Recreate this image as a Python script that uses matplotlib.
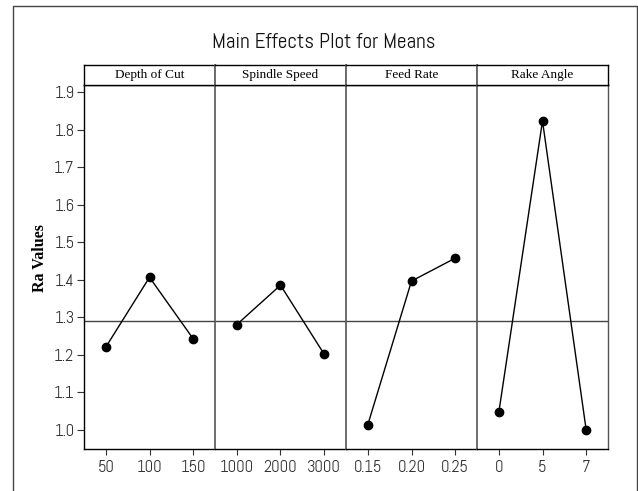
import matplotlib
matplotlib.use("Agg")
import matplotlib.pyplot as plt
from matplotlib.lines import Line2D

factors = ["Depth of Cut", "Spindle Speed", "Feed Rate", "Rake Angle"]
levels = [["50", "100", "150"],
          ["1000", "2000", "3000"],
          ["0.15", "0.20", "0.25"],
          ["0", "5", "7"]]
depth_means = [1.221, 1.407, 1.243]
speed_means = [1.281, 1.386, 1.202]
feed_means = [1.014, 1.397, 1.458]
rake_means = [1.047, 1.824, 1.000]
series = [depth_means, speed_means, feed_means, rake_means]
yticks = [1.0, 1.1, 1.2, 1.3, 1.4, 1.5, 1.6, 1.7, 1.8, 1.9]
grand_mean = sum(depth_means) / 3

narrow = ["Abel", "DejaVu Sans"]
serif = ["Liberation Serif", "DejaVu Serif"]

W, H = 638, 491
fig = plt.figure(figsize=(W / 100, H / 100), dpi=100)

left, right = 84, 608
top, bottom = 85, 449
strip_top = 65
pw = (right - left) / 4
tick_color = "#333333"
div_color = "#555555"

for i in range(4):
    x0 = left + i * pw
    ax = fig.add_axes([x0 / W, 1 - bottom / H, pw / W, (bottom - top) / H])
    ax.plot(range(3), series[i], color="black", lw=1.0, marker="o", ms=6,
            zorder=3)
    ax.axhline(grand_mean, color="#444444", lw=1.0, zorder=2)
    ax.set_xlim(-0.5, 2.5)
    ax.set_ylim(0.949, 1.92)
    ax.set_xticks(range(3))
    ax.set_xticklabels(levels[i], fontfamily=narrow, fontsize=12,
                       color=tick_color)
    ax.tick_params(axis="x", direction="out", length=4, width=0.8,
                   color=tick_color, pad=4)
    ax.set_yticks(yticks)
    if i == 0:
        ax.set_yticklabels([f"{v:.1f}" for v in yticks], fontfamily=narrow,
                           fontsize=12, color=tick_color)
        ax.tick_params(axis="y", direction="out", length=5, width=0.8,
                       color=tick_color, pad=2)
    else:
        ax.tick_params(axis="y", left=False, labelleft=False)
    for s in ["top", "bottom", "left", "right"]:
        ax.spines[s].set_linewidth(1.0)
        ax.spines[s].set_color("black")
    if i > 0:
        ax.spines["left"].set_color(div_color)
        ax.spines["left"].set_linewidth(1.2)
    if i < 3:
        ax.spines["right"].set_visible(False)
    else:
        ax.spines["right"].set_color(div_color)

    sax = fig.add_axes([x0 / W, 1 - top / H, pw / W, (top - strip_top) / H])
    sax.set_xticks([])
    sax.set_yticks([])
    for s in sax.spines.values():
        s.set_color("black")
        s.set_linewidth(1.0)
    if i > 0:
        sax.spines["left"].set_color(div_color)
        sax.spines["left"].set_linewidth(1.2)
    sax.text(0.5, 0.5, factors[i], ha="center", va="center",
             fontfamily=serif, fontsize=9.5, transform=sax.transAxes)

fig.text(40 / W, 1 - 258 / H, "Ra Values", rotation=90, ha="center",
         va="center", fontfamily=serif, fontweight="bold", fontsize=11.5)

fig.text(0.5 * (213 + 435) / W, 1 - 42 / H, "Main Effects Plot for Means",
         ha="center", va="center", fontfamily=narrow, fontsize=15.3,
         color="#111111")

# outer frame (top, left, right edges)
fx0, fx1, fy0 = 13 / W, 636.5 / W, 1 - 5.5 / H
fig.add_artist(Line2D([fx0, fx0, fx1, fx1], [0, fy0, fy0, 0],
                      transform=fig.transFigure, color="#444444", lw=1.0))

fig.savefig("out.png", dpi=100)
